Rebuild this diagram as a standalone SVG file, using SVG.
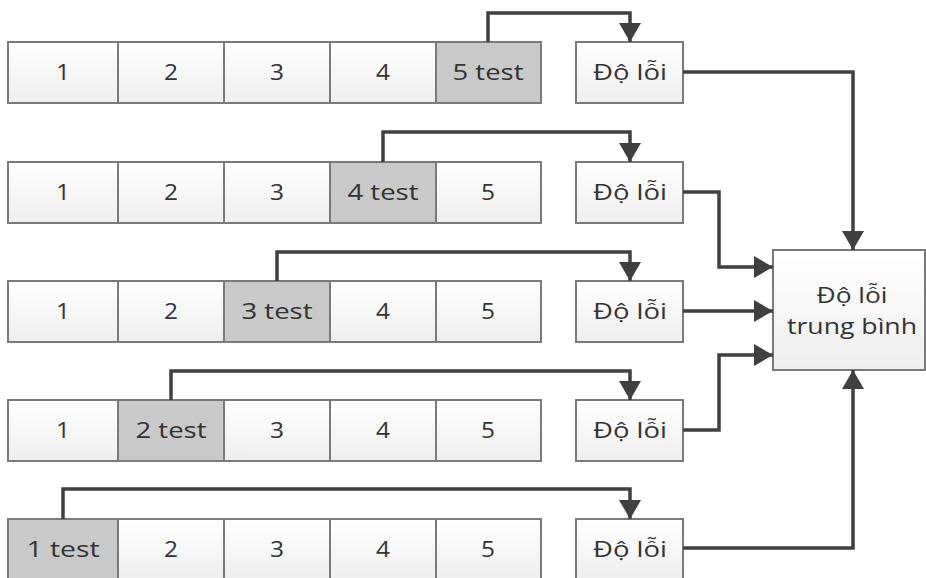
<svg xmlns="http://www.w3.org/2000/svg" width="926" height="578" viewBox="0 0 926 578">
<style>
.c{fill:url(#g);stroke:#7a7a7a;stroke-width:2}
.t{fill:#c9c9c9;stroke:#7a7a7a;stroke-width:2}
.e{fill:url(#g);stroke:#7a7a7a;stroke-width:2}
text{font-family:"Open Sans","Noto Sans","DejaVu Sans",sans-serif;font-size:21px;fill:#333333;text-anchor:middle;dominant-baseline:central}
.w{fill:none;stroke:#404040;stroke-width:3.5}
</style>
<defs>
<linearGradient id="g" x1="0" y1="0" x2="0" y2="1"><stop offset="0" stop-color="#ffffff"/><stop offset="1" stop-color="#eeeeee"/></linearGradient>
<marker id="a" markerUnits="userSpaceOnUse" markerWidth="20" markerHeight="24" refX="19" refY="11" orient="auto" viewBox="0 0 20 22"><path d="M0,0 L19,11 L0,22 z" fill="#404040"/></marker>
</defs>
<g id="row1">
<rect class="c" x="8" y="42" width="110" height="61"/><text x="63" y="72" textLength="14" lengthAdjust="spacingAndGlyphs">1</text>
<rect class="c" x="118" y="42" width="106" height="61"/><text x="171" y="72" textLength="14" lengthAdjust="spacingAndGlyphs">2</text>
<rect class="c" x="224" y="42" width="106" height="61"/><text x="277" y="72" textLength="14" lengthAdjust="spacingAndGlyphs">3</text>
<rect class="c" x="330" y="42" width="106" height="61"/><text x="383" y="72" textLength="14" lengthAdjust="spacingAndGlyphs">4</text>
<rect class="t" x="436" y="42" width="105" height="61"/><text x="488" y="72" textLength="71" lengthAdjust="spacingAndGlyphs">5 test</text>
</g>
<g id="row2">
<rect class="c" x="8" y="162" width="110" height="61"/><text x="63" y="192" textLength="14" lengthAdjust="spacingAndGlyphs">1</text>
<rect class="c" x="118" y="162" width="106" height="61"/><text x="171" y="192" textLength="14" lengthAdjust="spacingAndGlyphs">2</text>
<rect class="c" x="224" y="162" width="106" height="61"/><text x="277" y="192" textLength="14" lengthAdjust="spacingAndGlyphs">3</text>
<rect class="t" x="330" y="162" width="106" height="61"/><text x="383" y="192" textLength="71" lengthAdjust="spacingAndGlyphs">4 test</text>
<rect class="c" x="436" y="162" width="105" height="61"/><text x="488" y="192" textLength="14" lengthAdjust="spacingAndGlyphs">5</text>
</g>
<g id="row3">
<rect class="c" x="8" y="281" width="110" height="61"/><text x="63" y="311" textLength="14" lengthAdjust="spacingAndGlyphs">1</text>
<rect class="c" x="118" y="281" width="106" height="61"/><text x="171" y="311" textLength="14" lengthAdjust="spacingAndGlyphs">2</text>
<rect class="t" x="224" y="281" width="106" height="61"/><text x="277" y="311" textLength="71" lengthAdjust="spacingAndGlyphs">3 test</text>
<rect class="c" x="330" y="281" width="106" height="61"/><text x="383" y="311" textLength="14" lengthAdjust="spacingAndGlyphs">4</text>
<rect class="c" x="436" y="281" width="105" height="61"/><text x="488" y="311" textLength="14" lengthAdjust="spacingAndGlyphs">5</text>
</g>
<g id="row4">
<rect class="c" x="8" y="400" width="110" height="61"/><text x="63" y="430" textLength="14" lengthAdjust="spacingAndGlyphs">1</text>
<rect class="t" x="118" y="400" width="106" height="61"/><text x="171" y="430" textLength="71" lengthAdjust="spacingAndGlyphs">2 test</text>
<rect class="c" x="224" y="400" width="106" height="61"/><text x="277" y="430" textLength="14" lengthAdjust="spacingAndGlyphs">3</text>
<rect class="c" x="330" y="400" width="106" height="61"/><text x="383" y="430" textLength="14" lengthAdjust="spacingAndGlyphs">4</text>
<rect class="c" x="436" y="400" width="105" height="61"/><text x="488" y="430" textLength="14" lengthAdjust="spacingAndGlyphs">5</text>
</g>
<g id="row5">
<rect class="t" x="8" y="519" width="110" height="61"/><text x="63" y="549" textLength="73" lengthAdjust="spacingAndGlyphs">1 test</text>
<rect class="c" x="118" y="519" width="106" height="61"/><text x="171" y="549" textLength="14" lengthAdjust="spacingAndGlyphs">2</text>
<rect class="c" x="224" y="519" width="106" height="61"/><text x="277" y="549" textLength="14" lengthAdjust="spacingAndGlyphs">3</text>
<rect class="c" x="330" y="519" width="106" height="61"/><text x="383" y="549" textLength="14" lengthAdjust="spacingAndGlyphs">4</text>
<rect class="c" x="436" y="519" width="105" height="61"/><text x="488" y="549" textLength="14" lengthAdjust="spacingAndGlyphs">5</text>
</g>
<g id="err1"><rect class="e" x="576" y="42" width="107" height="61"/><text x="630" y="72" textLength="74" lengthAdjust="spacingAndGlyphs">Độ lỗi</text></g>
<g id="err2"><rect class="e" x="576" y="162" width="107" height="61"/><text x="630" y="192" textLength="74" lengthAdjust="spacingAndGlyphs">Độ lỗi</text></g>
<g id="err3"><rect class="e" x="576" y="281" width="107" height="61"/><text x="630" y="311" textLength="74" lengthAdjust="spacingAndGlyphs">Độ lỗi</text></g>
<g id="err4"><rect class="e" x="576" y="400" width="107" height="61"/><text x="630" y="430" textLength="74" lengthAdjust="spacingAndGlyphs">Độ lỗi</text></g>
<g id="err5"><rect class="e" x="576" y="519" width="107" height="61"/><text x="630" y="549" textLength="74" lengthAdjust="spacingAndGlyphs">Độ lỗi</text></g>
<g id="avg"><rect class="e" x="773" y="250" width="152" height="120"/><text x="852" y="295" textLength="71" lengthAdjust="spacingAndGlyphs">Độ lỗi</text><text x="852" y="326" textLength="130" lengthAdjust="spacingAndGlyphs">trung bình</text></g>
<g id="connectors">
<path class="w" marker-end="url(#a)" d="M488,42 V13 H630 V42"/>
<path class="w" marker-end="url(#a)" d="M383,162 V132 H630 V162"/>
<path class="w" marker-end="url(#a)" d="M277,281 V252 H630 V281"/>
<path class="w" marker-end="url(#a)" d="M171,400 V371 H630 V400"/>
<path class="w" marker-end="url(#a)" d="M63,519 V489 H630 V519"/>
<path class="w" marker-end="url(#a)" d="M683,72 H853 V250"/>
<path class="w" marker-end="url(#a)" d="M683,192 H719 V267 H773"/>
<path class="w" marker-end="url(#a)" d="M683,311 H773"/>
<path class="w" marker-end="url(#a)" d="M683,430 H719 V355 H773"/>
<path class="w" marker-end="url(#a)" d="M683,548 H853 V370"/>
</g>
</svg>
